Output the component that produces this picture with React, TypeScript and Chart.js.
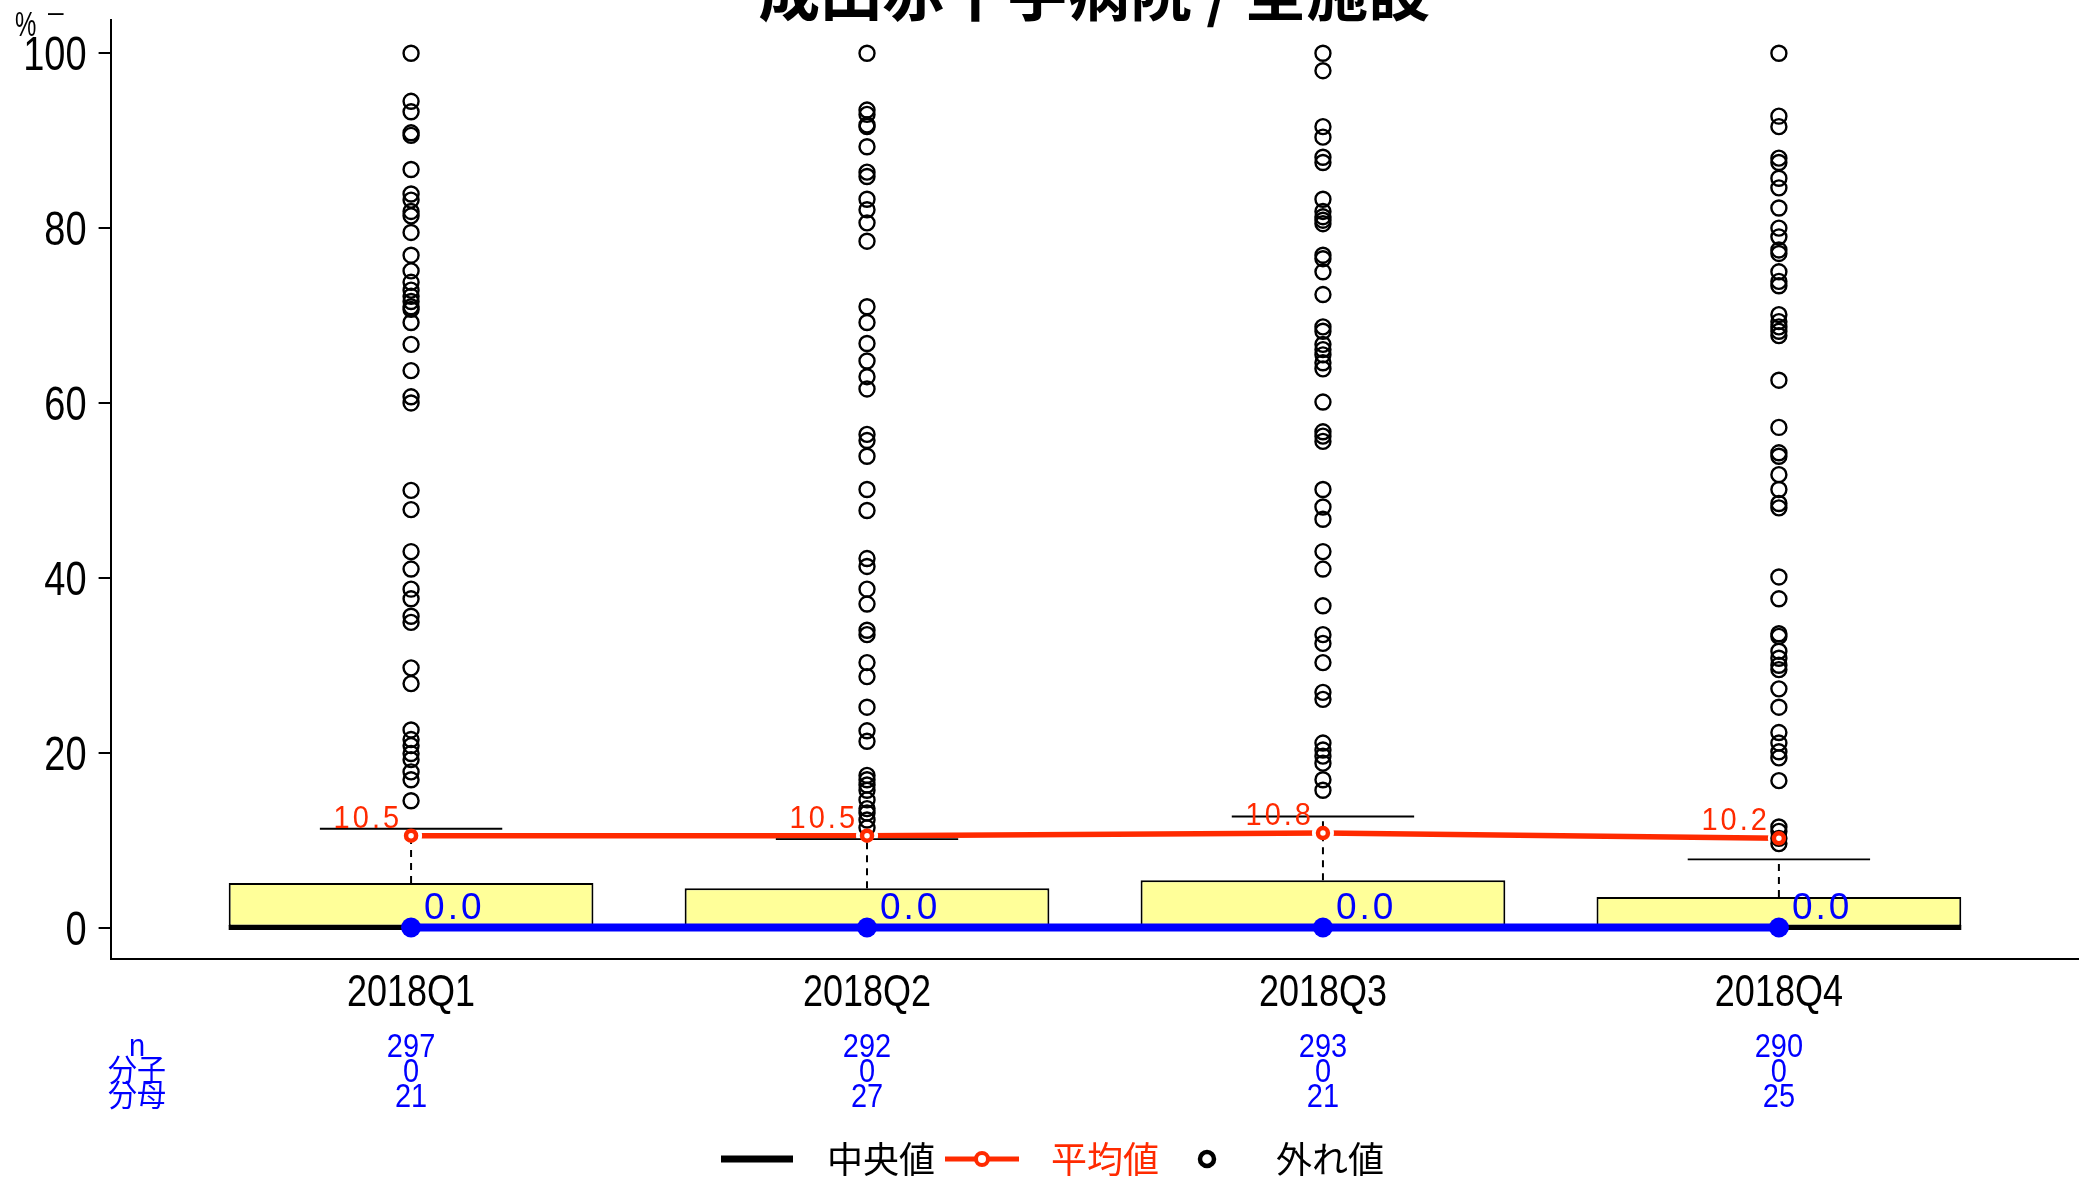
import React, { useEffect, useRef } from 'react';
import { Chart, registerables } from 'chart.js';

Chart.register(...registerables);

const titleText = '成田赤十字病院 / 全施設';
const yUnitLabel = '%';
const categories = ['2018Q1', '2018Q2', '2018Q3', '2018Q4'];
const yTicks = [0, 20, 40, 60, 80, 100];

const boxLower = [0, 0, 0, 0];
const boxMedian = [0, 0, 0, 0];
const boxUpper = [5.1, 4.5, 5.4, 3.5];
const whiskerUpper = [11.3, 10.1, 12.7, 7.8];
const meanValues = [10.5, 10.5, 10.8, 10.2];
const rateValues = [0, 0, 0, 0];

const outliersQ1 = [100, 94.5, 93.3, 90.9, 90.6, 86.7, 83.9, 83.2, 81.9, 81.4, 79.5, 76.9, 75.1, 73.8, 72.9, 72.2, 71.6, 71.0, 70.7, 69.2, 66.7, 63.7, 60.7, 60.0, 50.0, 47.8, 43.0, 41.0, 38.7, 37.6, 35.6, 34.9, 29.7, 27.9, 22.6, 21.5, 20.8, 19.9, 19.2, 17.8, 16.9, 14.5];
const outliersQ2 = [100, 93.5, 93.0, 91.8, 91.6, 89.3, 86.4, 85.9, 83.3, 82.1, 80.6, 78.5, 71.0, 69.2, 66.8, 64.8, 63.0, 61.6, 56.4, 55.7, 53.9, 50.1, 47.7, 42.2, 41.3, 38.7, 37.0, 34.0, 33.5, 30.3, 28.7, 25.2, 22.5, 21.3, 17.4, 16.9, 16.3, 15.7, 14.6, 13.6, 13.1, 12.3, 11.4];
const outliersQ3 = [100, 98.0, 91.6, 90.4, 88.1, 87.5, 83.3, 81.9, 81.3, 80.9, 80.5, 76.9, 76.5, 75.0, 72.4, 68.7, 68.2, 66.7, 66.1, 65.5, 64.6, 63.9, 60.1, 56.7, 56.2, 55.6, 50.1, 48.1, 46.7, 43.0, 41.0, 36.8, 33.5, 32.5, 30.3, 26.9, 26.1, 21.1, 20.3, 19.6, 18.8, 16.9, 15.7];
const outliersQ4 = [100, 92.8, 91.6, 88.0, 87.5, 85.7, 84.6, 82.3, 80.0, 79.0, 77.5, 77.1, 75.0, 73.9, 73.4, 70.1, 69.3, 68.7, 68.2, 67.7, 62.6, 57.2, 54.3, 53.9, 51.8, 50.1, 48.5, 48.0, 40.1, 37.6, 33.6, 33.3, 31.6, 30.8, 30.0, 29.5, 27.3, 25.2, 22.3, 21.1, 20.1, 19.4, 16.8, 11.5, 11.0, 10.2, 9.6];
const outliers = [outliersQ1, outliersQ2, outliersQ3, outliersQ4];

const tableRowLabels = ['n', '分子', '分母'];
const nValues = [297, 292, 293, 290];
const numeratorValues = [0, 0, 0, 0];
const denominatorValues = [21, 27, 21, 25];
const tableRows = [nValues, numeratorValues, denominatorValues];

const legendLabels = ['中央値', '平均値', '外れ値'];

const RED = '#ff2a00';
const BLUE = '#0000ff';
const YELLOW = '#ffff99';
const FONT = '"Liberation Sans", "Noto Sans CJK JP", sans-serif';
const CJK = '"Noto Sans CJK JP", "Liberation Sans", sans-serif';

const BOX_HALF = 0.4;
const CAP_HALF = 0.2;
const TEXT_STRETCH = 1.25;

function segments(items: { x0: number; x1: number; y0: number; y1: number }[]) {
  const out: any[] = [];
  items.forEach((s) => {
    out.push({ x: s.x0, y: s.y0 });
    out.push({ x: s.x1, y: s.y1 });
    out.push({ x: s.x1, y: null });
  });
  return out;
}

// draws the scale's own label items, stretched vertically like the reference's tall type
function makeStretchedDrawLabels(shiftY: number) {
  return function (this: any, chartArea: any) {
    const ctx = this.ctx;
    const items = this.getLabelItems(chartArea);
    for (const item of items) {
      const o = item.options;
      ctx.save();
      ctx.translate(o.translation[0], o.translation[1] + shiftY);
      ctx.scale(1, TEXT_STRETCH);
      ctx.font = item.font.string;
      ctx.fillStyle = o.color;
      ctx.textAlign = o.textAlign;
      ctx.textBaseline = o.textBaseline;
      ctx.fillText(String(item.label), 0, (item.textOffset || 0) / TEXT_STRETCH);
      ctx.restore();
    }
  };
}

function stretchedText(ctx: any, text: string, x: number, y: number, k: number) {
  ctx.save();
  ctx.translate(x, y);
  ctx.scale(1, k);
  ctx.fillText(text, 0, 0);
  ctx.restore();
}

const overlayPlugin = {
  id: 'overlay',
  afterDatasetsDraw(chart: any) {
    const { ctx, scales } = chart;
    const xs = scales.x;
    const ys = scales.y;
    ctx.save();
    ctx.font = `29px ${FONT}`;
    (ctx as any).letterSpacing = '3px';
    ctx.fillStyle = RED;
    ctx.textAlign = 'right';
    ctx.textBaseline = 'alphabetic';
    meanValues.forEach((v, i) => {
      const px = xs.getPixelForValue(i);
      const py = ys.getPixelForValue(v);
      stretchedText(ctx, v.toFixed(1), px - 9, py - 8, 1.08);
    });
    ctx.font = `37px ${FONT}`;
    (ctx as any).letterSpacing = '3px';
    ctx.fillStyle = BLUE;
    ctx.textAlign = 'left';
    rateValues.forEach((v, i) => {
      const px = xs.getPixelForValue(i);
      const py = ys.getPixelForValue(v);
      ctx.fillText(v.toFixed(1), px + 13, py - 9);
    });
    ctx.restore();
  },
  afterDraw(chart: any) {
    const { ctx, scales, chartArea } = chart;
    const xs = scales.x;
    ctx.save();
    ctx.font = `bold 62px ${CJK}`;
    ctx.fillStyle = '#000';
    ctx.textAlign = 'center';
    ctx.textBaseline = 'alphabetic';
    ctx.fillText(titleText, (chartArea.left + chartArea.right) / 2, 16);
    ctx.font = `24px ${FONT}`;
    ctx.textAlign = 'left';
    stretchedText(ctx, yUnitLabel, 15, 36, 1.45);
    ctx.font = `28px ${FONT}`;
    ctx.fillText('–', 48, 21);
    ctx.font = `29px ${FONT}`;
    ctx.fillStyle = BLUE;
    ctx.textAlign = 'center';
    ctx.textBaseline = 'middle';
    tableRows.forEach((row, r) => {
      const y = chartArea.bottom + 89 + r * 25;
      stretchedText(ctx, tableRowLabels[r], 137, y, 1.05);
      row.forEach((v, i) => {
        stretchedText(ctx, String(v), xs.getPixelForValue(i), y, 1.12);
      });
    });
    const ly = chart.height - 21;
    ctx.lineCap = 'butt';
    ctx.strokeStyle = '#000';
    ctx.lineWidth = 7;
    ctx.beginPath();
    ctx.moveTo(721, ly);
    ctx.lineTo(793, ly);
    ctx.stroke();
    ctx.font = `36px ${CJK}`;
    ctx.textAlign = 'left';
    ctx.fillStyle = '#000';
    ctx.fillText(legendLabels[0], 827, ly);
    ctx.strokeStyle = RED;
    ctx.lineWidth = 5;
    ctx.beginPath();
    ctx.moveTo(945, ly);
    ctx.lineTo(1019, ly);
    ctx.stroke();
    ctx.beginPath();
    ctx.arc(982, ly, 6, 0, Math.PI * 2);
    ctx.fillStyle = '#fff';
    ctx.fill();
    ctx.lineWidth = 4;
    ctx.stroke();
    ctx.fillStyle = RED;
    ctx.fillText(legendLabels[1], 1051, ly);
    ctx.strokeStyle = '#000';
    ctx.lineWidth = 4.5;
    ctx.beginPath();
    ctx.arc(1207, ly, 7, 0, Math.PI * 2);
    ctx.stroke();
    ctx.fillStyle = '#000';
    ctx.fillText(legendLabels[2], 1276, ly);
    ctx.restore();
  },
};

export default function App() {
  const canvasRef = useRef<HTMLCanvasElement | null>(null);

  useEffect(() => {
    if (!canvasRef.current) return;
    const boxData = categories.map((_, i) => ({ x: i, y: [boxLower[i], boxUpper[i]] }));
    const medianData = segments(categories.map((_, i) => ({ x0: i - BOX_HALF, x1: i + BOX_HALF, y0: boxMedian[i], y1: boxMedian[i] })));
    const whiskerData = segments(categories.map((_, i) => ({ x0: i, x1: i, y0: boxUpper[i], y1: whiskerUpper[i] })));
    const capData = segments(categories.map((_, i) => ({ x0: i - CAP_HALF, x1: i + CAP_HALF, y0: whiskerUpper[i], y1: whiskerUpper[i] })));
    const outlierData = outliers.flatMap((arr, i) => arr.map((v) => ({ x: i, y: v })));
    const meanData = meanValues.map((v, i) => ({ x: i, y: v }));
    const rateData = rateValues.map((v, i) => ({ x: i, y: v }));

    const chart = new Chart(canvasRef.current, {
      type: 'scatter',
      data: {
        datasets: [
          {
            type: 'line',
            label: 'mean points',
            data: meanData,
            showLine: false,
            pointRadius: 5,
            pointBorderWidth: 4.5,
            pointBackgroundColor: '#fff',
            pointBorderColor: RED,
            order: 0,
          } as any,
          {
            type: 'line',
            label: 'rate',
            data: rateData,
            borderColor: BLUE,
            borderWidth: 8,
            pointRadius: 10,
            pointBorderWidth: 0,
            pointBackgroundColor: BLUE,
            tension: 0,
            order: 1,
          },
          {
            type: 'scatter',
            label: 'outliers',
            data: outlierData,
            pointRadius: 7.5,
            pointBorderWidth: 2.4,
            pointBorderColor: '#000',
            pointBackgroundColor: 'rgba(0,0,0,0)',
            order: 2,
          },
          {
            type: 'line',
            label: 'caps',
            data: capData,
            borderColor: '#000',
            borderWidth: 1.8,
            pointRadius: 0,
            spanGaps: false,
            order: 3,
          },
          {
            type: 'line',
            label: 'whiskers',
            data: whiskerData,
            borderColor: '#000',
            borderWidth: 2,
            borderDash: [7, 6],
            pointRadius: 0,
            spanGaps: false,
            order: 4,
          },
          {
            type: 'scatter',
            label: 'mean gaps',
            data: meanData,
            pointRadius: 11,
            pointBorderWidth: 0,
            pointBackgroundColor: '#fff',
            order: 5,
          },
          {
            type: 'line',
            label: 'mean line',
            data: meanData,
            borderColor: RED,
            borderWidth: 5.5,
            pointRadius: 0,
            tension: 0,
            order: 6,
          },
          {
            type: 'line',
            label: 'median',
            data: medianData,
            borderColor: '#000',
            borderWidth: 5,
            pointRadius: 0,
            spanGaps: false,
            order: 7,
          },
          {
            type: 'bar',
            label: 'box',
            data: boxData,
            backgroundColor: YELLOW,
            borderColor: '#000',
            borderWidth: 2,
            borderSkipped: false,
            categoryPercentage: 1,
            barPercentage: 2 * BOX_HALF,
            order: 8,
          } as any,
        ],
      },
      options: {
        responsive: false,
        animation: false,
        devicePixelRatio: 1,
        layout: { padding: { top: 20, right: 8, left: 0, bottom: 0 } },
        plugins: {
          legend: { display: false },
          tooltip: { enabled: false },
          title: { display: false },
        },
        scales: {
          x: {
            type: 'linear',
            min: -0.659,
            max: 3.656,
            offset: false,
            afterBuildTicks: (scale: any) => {
              scale.ticks = categories.map((_, i) => ({ value: i }));
            },
            afterFit: (scale: any) => {
              scale.height = 221;
              scale.paddingLeft = 0;
              scale.paddingRight = 0;
              scale.drawLabels = makeStretchedDrawLabels(0);
            },
            ticks: {
              autoSkip: false,
              maxRotation: 0,
              padding: 13,
              color: '#000',
              font: { family: FONT, size: 36 },
              callback: (v: any) => categories[v] ?? '',
            },
            grid: { display: false, drawTicks: false, drawOnChartArea: false },
            border: { display: true, color: '#000', width: 2 },
          },
          y: {
            type: 'linear',
            min: -3.6,
            max: 103.8,
            afterBuildTicks: (scale: any) => {
              scale.ticks = yTicks.map((v) => ({ value: v }));
            },
            afterFit: (scale: any) => {
              scale.width = 110.6;
              scale.paddingTop = 0;
              scale.paddingBottom = 0;
              scale.drawLabels = makeStretchedDrawLabels(4);
            },
            ticks: {
              padding: 12,
              color: '#000',
              font: { family: FONT, size: 38 },
              callback: (v: any) => String(v),
            },
            grid: {
              display: true,
              drawOnChartArea: false,
              drawTicks: true,
              tickLength: 12,
              color: '#000',
              lineWidth: 2,
            },
            border: { display: true, color: '#000', width: 2 },
          },
        },
      } as any,
      plugins: [overlayPlugin],
    });
    return () => chart.destroy();
  }, []);

  return (
    <div style={{ position: 'fixed', left: 0, top: 0, width: 2089, height: 1180, background: '#fff' }}>
      <canvas ref={canvasRef} width={2089} height={1180} style={{ display: 'block' }} />
    </div>
  );
}
